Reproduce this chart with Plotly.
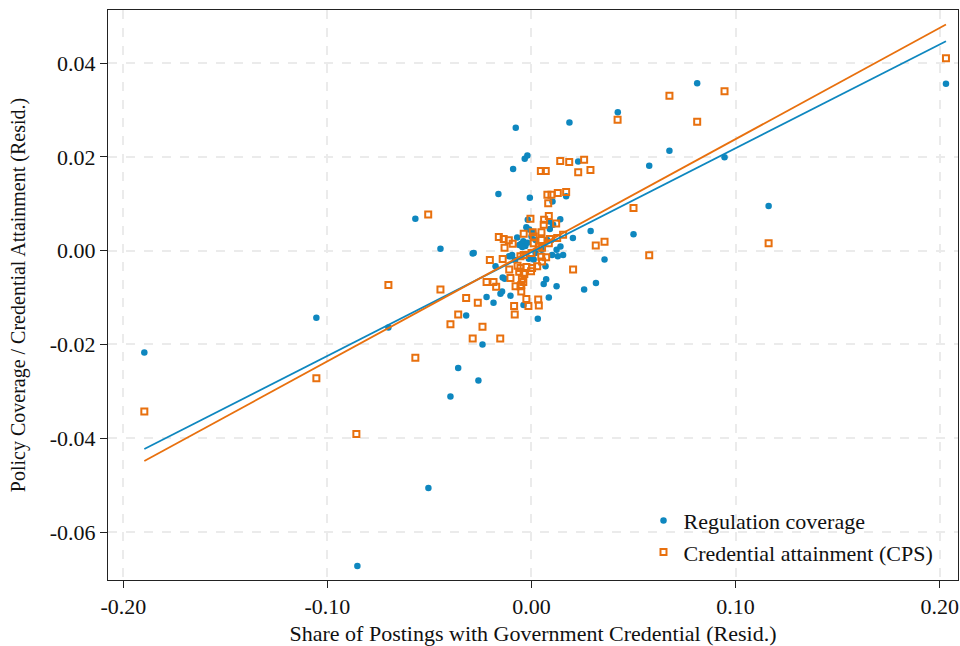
import plotly.graph_objects as go
import numpy as np

# --- Data ---
reg_x = [-0.1897, -0.1054, -0.0853, -0.0701, -0.0569, -0.0505, -0.0446, -0.0397, -0.0359, -0.0320,
         -0.0288, -0.0240, -0.0220, -0.0186, -0.0152, -0.0144, -0.0103, -0.0176, -0.0141, -0.0131,
         -0.0110, -0.0095, -0.0039, 0.0031, 0.0085, 0.0060, 0.0072, 0.0123, 0.0069, 0.0129,
         0.0155, 0.0101, -0.0013, 0.0011, 0.0203, 0.0290, 0.0258, 0.0316, 0.0358, 0.0500,
         0.0577, 0.0676, 0.0812, 0.0946, 0.1162, 0.2031, 0.0423, 0.0186, -0.0077, -0.0020,
         -0.0033, 0.0229, -0.0090, -0.0162, -0.0008, 0.0103, 0.0170, 0.0141, -0.0018, 0.0088,
         -0.0025, -0.0011, 0.0106, 0.0090, 0.0008, 0.0000, 0.0020, 0.0077, -0.0070, -0.0050,
         -0.0040, -0.0030, -0.0045, -0.0020, -0.0060, 0.0123, 0.0142, -0.0283, -0.0100, 0.0050,
         -0.0080, 0.0020, -0.0260]
reg_y = [-0.0217, -0.0143, -0.0672, -0.0164, 0.0068, -0.0506, 0.0004, -0.0311, -0.0250, -0.0138,
         -0.0006, -0.0200, -0.0099, -0.0111, -0.0092, -0.0087, -0.0096, -0.0033, -0.0057, -0.0060,
         -0.0012, -0.0009, -0.0116, -0.0145, -0.0100, -0.0071, -0.0061, -0.0076, -0.0033, -0.0012,
         -0.0009, -0.0009, -0.0017, -0.0019, 0.0027, 0.0042, -0.0083, -0.0069, -0.0019, 0.0035,
         0.0181, 0.0213, 0.0357, 0.0199, 0.0095, 0.0356, 0.0295, 0.0273, 0.0262, 0.0203,
         0.0196, 0.0190, 0.0174, 0.0121, 0.0113, 0.0105, 0.0116, 0.0067, 0.0066, 0.0062,
         0.0050, 0.0045, 0.0055, 0.0046, 0.0040, 0.0030, 0.0023, 0.0023, 0.0028, 0.0015,
         0.0020, 0.0010, 0.0008, 0.0017, 0.0012, 0.0002, 0.0009, -0.0005, -0.0012, 0.0002,
         -0.0020, -0.0005, -0.0277]

cps_x = [-0.1897, -0.1054, -0.0858, -0.0701, -0.0569, -0.0506, -0.0446, -0.0397, -0.0359, -0.0320,
         -0.0263, -0.0240, -0.0288, -0.0153, -0.0082, -0.0085, -0.0025, 0.0033, 0.0036, -0.0015,
         -0.0220, -0.0186, -0.0173, -0.0204, -0.0141, -0.0109, -0.0103, -0.0078, -0.0054, -0.0050,
         -0.0060, -0.0035, -0.0054, -0.0068, -0.0025, -0.0002, -0.0038, -0.0047, -0.0040, -0.0050,
         0.0003, 0.0028, 0.0052, 0.0072, -0.0054, -0.0038, 0.0000, 0.0048, 0.0204, 0.0315,
         0.0358, -0.0160, -0.0136, -0.0111, -0.0092, -0.0132, -0.0038, 0.0006, 0.0049, 0.0011,
         0.0049, 0.0011, 0.0036, 0.0052, 0.0085, 0.0090, 0.0126, 0.0155, -0.0005, 0.0062,
         0.0060, 0.0085, 0.0121, 0.0082, 0.0078, 0.0098, 0.0129, 0.0170, 0.0046, 0.0070,
         0.0229, 0.0289, 0.0141, 0.0185, 0.0258, 0.0422, 0.0500, 0.0577, 0.0676, 0.0812,
         0.0946, 0.1162, 0.2031]
cps_y = [-0.0343, -0.0272, -0.0391, -0.0073, -0.0228, 0.0077, -0.0083, -0.0157, -0.0136, -0.0101,
         -0.0111, -0.0162, -0.0187, -0.0187, -0.0136, -0.0118, -0.0103, -0.0104, -0.0117, -0.0118,
         -0.0067, -0.0067, -0.0077, -0.0020, -0.0018, -0.0040, -0.0058, -0.0076, -0.0076, -0.0087,
         -0.0045, -0.0050, -0.0037, -0.0032, -0.0035, -0.0044, -0.0048, -0.0060, -0.0067, -0.0073,
         -0.0037, -0.0033, -0.0023, -0.0014, -0.0012, -0.0009, -0.0005, -0.0013, -0.0040, 0.0011,
         0.0019, 0.0029, 0.0025, 0.0022, 0.0015, 0.0006, 0.0036, 0.0039, 0.0039, 0.0030,
         0.0023, 0.0016, 0.0009, 0.0006, 0.0016, 0.0025, 0.0027, 0.0034, 0.0068, 0.0066,
         0.0055, 0.0074, 0.0058, 0.0101, 0.0119, 0.0119, 0.0123, 0.0125, 0.0170, 0.0170,
         0.0167, 0.0172, 0.0191, 0.0189, 0.0194, 0.0279, 0.0091, -0.0010, 0.0330, 0.0275,
         0.0340, 0.0016, 0.0410]

# Fitted lines (slope, intercept)
reg_fit = (0.2213, -0.0003)
cps_fit = (0.2368, 0.0001)

x_ticks = [-0.20, -0.10, 0.00, 0.10, 0.20]
x_tick_labels = ["-0.20", "-0.10", "0.00", "0.10", "0.20"]
y_ticks = [-0.06, -0.04, -0.02, 0.00, 0.02, 0.04]
y_tick_labels = ["-0.06", "-0.04", "-0.02", "0.00", "0.02", "0.04"]

BLUE = "#0e87bf"
ORANGE = "#e8700e"
FONT = "Liberation Serif"

fig = go.Figure()
fig.add_trace(go.Scatter(x=reg_x, y=reg_y, mode="markers", name="Regulation coverage",
                         marker=dict(symbol="circle", size=6.5, color=BLUE, line=dict(width=0))))
fig.add_trace(go.Scatter(x=cps_x, y=cps_y, mode="markers", name="Credential attainment (CPS)",
                         marker=dict(symbol="square-open", size=6, color=ORANGE, line=dict(width=2, color=ORANGE))))

def fit_line(xs, fit):
    lo, hi = min(xs), max(xs)
    xx = np.array([lo, hi])
    return xx, fit[0] * xx + fit[1]

fx, fy = fit_line(reg_x, reg_fit)
fig.add_trace(go.Scatter(x=fx, y=fy, mode="lines", showlegend=False, hoverinfo="skip",
                         line=dict(color=BLUE, width=1.8)))
fx, fy = fit_line(cps_x, cps_fit)
fig.add_trace(go.Scatter(x=fx, y=fy, mode="lines", showlegend=False, hoverinfo="skip",
                         line=dict(color=ORANGE, width=1.8)))

axis_common = dict(showline=True, linecolor="#222222", linewidth=1, mirror=True,
                   ticks="outside", ticklen=7, tickcolor="#222222",
                   showgrid=True, gridcolor="#ebebeb", gridwidth=1.5, griddash="dash",
                   zeroline=False, automargin=False,
                   tickfont=dict(family=FONT, size=22, color="#111111"))

fig.update_layout(
    width=960, height=646,
    margin=dict(l=108, r=2, t=10, b=66),
    plot_bgcolor="white", paper_bgcolor="white",
    font=dict(family=FONT, size=20, color="#111111"),
    xaxis=dict(range=[-0.2075, 0.209], tickvals=x_ticks, ticktext=x_tick_labels,
               title=dict(text="Share of Postings with Government Credential (Resid.)",
                          font=dict(family=FONT, size=22), standoff=8),
               **axis_common),
    yaxis=dict(range=[-0.0702, 0.0513], tickvals=y_ticks, ticktext=y_tick_labels,
               title=dict(text="Policy Coverage / Credential Attainment (Resid.)",
                          font=dict(family=FONT, size=20), standoff=18),
               **axis_common),
    legend=dict(x=0.63, y=0.141, xanchor="left", yanchor="top",
                bgcolor="rgba(255,255,255,0)", font=dict(family=FONT, size=22),
                itemsizing="trace", tracegroupgap=0),
    showlegend=True,
)

fig.write_html("out.html", config={"displayModeBar": False},
               post_script="document.body.style.margin='0';document.body.style.padding='0';")
